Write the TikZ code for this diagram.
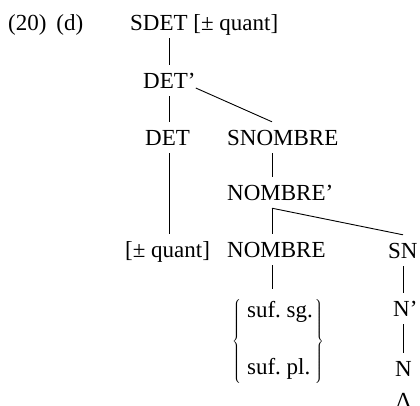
\RequirePackage{fix-cm}
\documentclass[tikz,border=0pt]{standalone}
\usepackage{fontspec}
\setmainfont{Liberation Serif}

\begin{document}
\begin{tikzpicture}[x=1pt,y=-1pt,
  wort/.style={anchor=base west,inner xsep=0pt,inner ysep=8pt,
    text height=15pt,text depth=0pt,font=\fontsize{23}{27}\selectfont},
  ast/.style={line width=0.9pt}]

  \useasboundingbox (0,0) rectangle (420,405);

  % Spalten der senkrechten Linien
  \coordinate (s1) at (169,0);
  \coordinate (s2) at (272,0);
  \coordinate (s3) at (403,0);

  % Nummer
  \node[wort] (nr) at (8,30) {(20)\hspace{10pt}(d)};

  % Knoten
  \node[wort] (sdet) at (130,30) {SDET [± quant]};
  \node[wort] (dbar) at (143,88) {DET'};
  \node[wort] (det) at (145,145) {DET};
  \node[wort] (snombre) at (227,145) {SNOMBRE};
  \node[wort] (nbar) at (227,200) {NOMBRE'};
  \node[wort] (quant) at (125,257) {[± quant]};
  \node[wort] (nombre) at (227,257) {NOMBRE};
  \node[wort] (sn) at (388,258) {SN};
  \node[wort] (nprime) at (393,316) {N'};
  \node[wort] (n) at (395,376) {N};
  \node[wort] (delta) at (396,408) {Δ};

  % Klammer mit den Suffixen
  \node[anchor=west,inner xsep=0pt,inner ysep=10pt,
    font=\fontsize{23}{27}\selectfont] (suf) at (232,341)
    {$\left\{\begin{tabular}{@{\hspace{6pt}}l@{\hspace{2pt}}}suf.\ sg.\\[30pt]suf.\ pl.\end{tabular}\right\}$};

  % Linien
  \draw[ast] (sdet.south -| s1) -- (dbar.north -| s1);
  \draw[ast] (dbar.south -| s1) -- (det.north -| s1);
  \draw[ast] (dbar.base east) -- (snombre.north -| s2);
  \draw[ast] (det.south -| s1) -- (quant.north -| s1);
  \draw[ast] (snombre.south -| s2) -- (nbar.north -| s2);
  \draw[ast] (nbar.south -| s2) -- (nombre.north -| s2);
  \draw[ast] (nbar.south -| s2) -- (sn.north -| s3);
  \draw[ast] (nombre.south -| s2) -- (suf.north -| s2);
  \draw[ast] (sn.south -| s3) -- (nprime.north -| s3);
  \draw[ast] (nprime.south -| s3) -- (n.north -| s3);

\end{tikzpicture}
\end{document}
